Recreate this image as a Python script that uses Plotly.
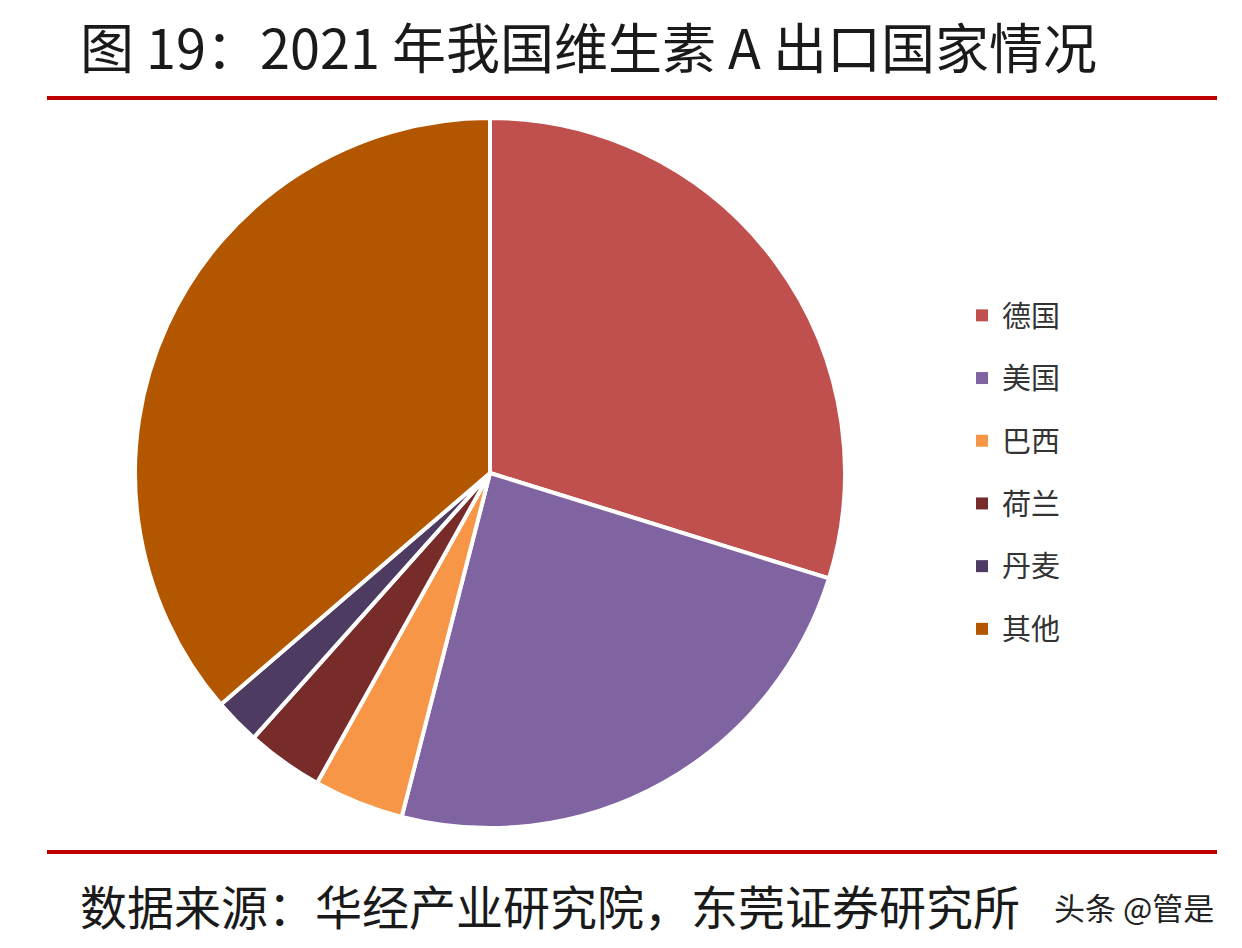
import plotly.graph_objects as go

W, H = 1242, 948

categories = ["德国", "美国", "巴西", "荷兰", "丹麦", "其他"]
shares = [29.8, 24.2, 4.1, 3.5, 2.1, 36.3]
colors = ["#C0504D", "#8064A2", "#F79646", "#772C2A", "#4D3B62", "#B35600"]

title_text = "图 19：2021 年我国维生素 A 出口国家情况"
source_text = "数据来源：华经产业研究院，东莞证券研究所"
watermark_text = "头条 @管是"

CJK = "Noto Sans CJK SC"


def px(x):
    return x / W


def py(y):
    return 1 - y / H


fig = go.Figure()

fig.add_trace(go.Pie(
    labels=categories,
    values=shares,
    sort=False,
    direction="clockwise",
    rotation=0,
    marker=dict(colors=colors, line=dict(color="white", width=4)),
    textinfo="none",
    hoverinfo="label+percent",
    showlegend=False,
    domain=dict(x=[px(135), px(845)], y=[py(828), py(118)]),
))

# legend entries (one per category, same colours as the slices)
for name, col in zip(categories, colors):
    fig.add_trace(go.Scatter(
        x=[None], y=[None], mode="markers", name=name,
        marker=dict(symbol="square", size=12, color=col),
        showlegend=True, legendgroup=name, hoverinfo="skip",
    ))

fig.update_layout(
    width=W, height=H,
    margin=dict(l=0, r=0, t=0, b=0),
    paper_bgcolor="white", plot_bgcolor="white",
    xaxis=dict(visible=False), yaxis=dict(visible=False),
    legend=dict(
        x=px(962), y=py(290), xanchor="left", yanchor="top",
        font=dict(family=CJK, size=29, color="#333333"),
        tracegroupgap=22, bgcolor="rgba(0,0,0,0)",
    ),
    shapes=[
        dict(type="line", xref="paper", yref="paper",
             x0=px(47), x1=px(1217), y0=py(98), y1=py(98),
             line=dict(color="#C00000", width=4)),
        dict(type="line", xref="paper", yref="paper",
             x0=px(47), x1=px(1217), y0=py(852), y1=py(852),
             line=dict(color="#C00000", width=4)),
    ],
    annotations=[
        dict(text=title_text, xref="paper", yref="paper",
             x=px(78), y=py(46), xanchor="left", yanchor="middle",
             showarrow=False, font=dict(family=CJK, size=54, color="#1a1a1a")),
        dict(text=source_text, xref="paper", yref="paper",
             x=px(78), y=py(904), xanchor="left", yanchor="middle",
             showarrow=False, font=dict(family=CJK, size=47, color="#1a1a1a")),
        dict(text=watermark_text, xref="paper", yref="paper",
             x=px(1216), y=py(906), xanchor="right", yanchor="middle",
             showarrow=False, font=dict(family=CJK, size=31, color="#222222")),
    ],
)

fig.write_html("out.html", config={"displayModeBar": False},
               post_script="document.body.style.margin='0';")
